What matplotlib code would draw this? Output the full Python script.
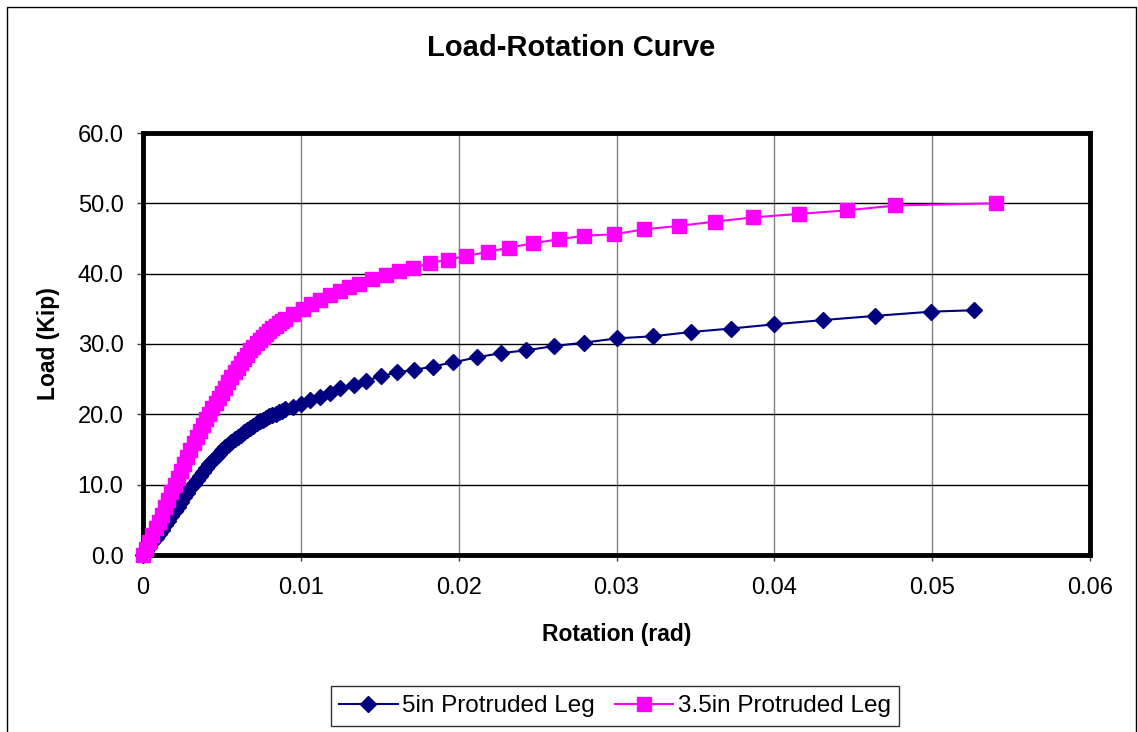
import matplotlib.pyplot as plt
import matplotlib.patches as patches

plt.rcParams['font.family'] = ['Liberation Sans', 'DejaVu Sans']

# 5in Protruded Leg
rot_5in = [0.0, 0.0002, 0.0004, 0.0006, 0.0008, 0.0010, 0.0012, 0.0014, 0.0016, 0.0018,
           0.0020, 0.0022, 0.0024, 0.0026, 0.0028, 0.0030, 0.0032, 0.0034, 0.0036, 0.0038,
           0.0040, 0.0042, 0.0044, 0.0046, 0.0048, 0.0050, 0.0052, 0.0054, 0.0056, 0.0058,
           0.0060, 0.0062, 0.0064, 0.0066, 0.0068, 0.0070, 0.0072, 0.0074, 0.0076, 0.0078,
           0.0080, 0.0082, 0.0084, 0.0086, 0.0088, 0.0090, 0.0095, 0.0100, 0.01056, 0.01123,
           0.01182, 0.01249, 0.01339, 0.01412, 0.0151, 0.01611, 0.01715, 0.01835, 0.01967, 0.02115,
           0.02267, 0.02428, 0.02602, 0.02797, 0.03003, 0.0323, 0.03471, 0.03725, 0.0400, 0.04307,
           0.04639, 0.04995, 0.05262]
load_5in = [0.0, 0.6, 1.2, 1.8, 2.4, 3.0, 3.6, 4.2, 4.9, 5.5,
            6.2, 6.8, 7.5, 8.2, 8.8, 9.5, 10.1, 10.7, 11.3, 11.8,
            12.4, 12.9, 13.4, 13.9, 14.4, 14.9, 15.3, 15.7, 16.1, 16.5,
            16.8, 17.1, 17.5, 17.8, 18.1, 18.4, 18.7, 19.0, 19.2, 19.5,
            19.7, 19.9, 20.1, 20.3, 20.5, 20.7, 21.1, 21.4, 22.0, 22.5,
            23.1, 23.7, 24.2, 24.8, 25.4, 26.0, 26.3, 26.8, 27.4, 28.1,
            28.7, 29.1, 29.7, 30.2, 30.8, 31.1, 31.7, 32.2, 32.8, 33.4,
            34.0, 34.6, 34.8]

# 3.5in Protruded Leg
rot_35in = [0.0, 0.0002, 0.0004, 0.0006, 0.0008, 0.0010, 0.0012, 0.0014, 0.0016, 0.0018,
            0.0020, 0.0022, 0.0024, 0.0026, 0.0028, 0.0030, 0.0032, 0.0034, 0.0036, 0.0038,
            0.0040, 0.0042, 0.0044, 0.0046, 0.0048, 0.0050, 0.0052, 0.0054, 0.0056, 0.0058,
            0.0060, 0.0062, 0.0064, 0.0066, 0.0068, 0.0070, 0.0072, 0.0074, 0.0076, 0.0078,
            0.0080, 0.0082, 0.0084, 0.0086, 0.0088, 0.0090, 0.0095, 0.01015, 0.01067, 0.01119,
            0.01182, 0.01245, 0.01308, 0.0137, 0.01454, 0.01538, 0.01621, 0.01711, 0.01816, 0.01933,
            0.02045, 0.02187, 0.02316, 0.02468, 0.02634, 0.02797, 0.02984, 0.03176, 0.03396, 0.03623,
            0.03864, 0.04155, 0.0446, 0.04767, 0.05404]
load_35in = [0.0, 0.9, 1.9, 2.8, 3.8, 4.7, 5.7, 6.8, 7.8, 8.9,
             9.9, 11.0, 12.0, 13.0, 14.0, 15.0, 15.9, 16.8, 17.6, 18.5,
             19.3, 20.1, 20.9, 21.6, 22.3, 23.0, 23.8, 24.6, 25.3, 26.0,
             26.6, 27.3, 27.9, 28.5, 29.1, 29.6, 30.1, 30.6, 31.0, 31.4,
             31.9, 32.3, 32.6, 33.0, 33.3, 33.6, 34.3, 35.0, 35.7, 36.3,
             36.9, 37.5, 38.1, 38.6, 39.2, 39.8, 40.4, 40.8, 41.5, 42.0,
             42.5, 43.1, 43.7, 44.3, 44.9, 45.4, 45.6, 46.3, 46.8, 47.4,
             48.0, 48.5, 49.0, 49.7, 50.0]

xticks = [0, 0.01, 0.02, 0.03, 0.04, 0.05, 0.06]
xtick_labels = ['0', '0.01', '0.02', '0.03', '0.04', '0.05', '0.06']
yticks = [0, 10, 20, 30, 40, 50, 60]

fig = plt.figure(figsize=(11.38, 7.32), dpi=100)
ax = fig.add_axes([143 / 1138, 1 - 555 / 732, (1090 - 143) / 1138, (555 - 133) / 732])

# рамка всей диаграммы
fig.patches.append(patches.Rectangle((7 / 1138, -0.02), (1136 - 7) / 1138, 1 - 7 / 732 + 0.02,
                                     transform=fig.transFigure, fill=False,
                                     edgecolor='black', linewidth=1))

ax.plot(rot_5in, load_5in, color='#000080', marker='D', markersize=8, linewidth=1.5,
        label='5in Protruded Leg', zorder=3, clip_on=False)
ax.plot(rot_35in, load_35in, color='#FF00FF', marker='s', markersize=9.5, linewidth=1.5,
        label='3.5in Protruded Leg', zorder=4, clip_on=False)

ax.set_xlim(0, 0.06)
ax.set_ylim(0, 60)
ax.set_xticks(xticks)
ax.set_xticklabels(xtick_labels)
ax.set_yticks(yticks)
ax.set_yticklabels([f'{v:.1f}' for v in yticks])
ax.tick_params(axis='both', direction='out', length=4, width=1, color='#404040',
               labelsize=17, pad=10)
ax.tick_params(axis='x', pad=12)

ax.yaxis.grid(True, color='black', linewidth=1)
ax.xaxis.grid(True, color='#808080', linewidth=1)
ax.set_axisbelow(True)

for s in ax.spines.values():
    s.set_linewidth(3.5)
    s.set_color('black')

ax.set_xlabel('Rotation (rad)', fontsize=16.5, fontweight='bold', va='center')
ax.xaxis.set_label_coords(0.5, (555 - 635) / 422)
ax.set_ylabel('Load (Kip)', fontsize=16.5, fontweight='bold', va='center')
ax.yaxis.set_label_coords((48 - 143) / 947, 0.5)

fig.text(571 / 1138, 1 - 48 / 732, 'Load-Rotation Curve', fontsize=21, fontweight='bold',
         ha='center', va='center')

leg = fig.legend(loc='center', bbox_to_anchor=(615 / 1138, 1 - 706 / 732), ncol=2,
                 fontsize=17.5, frameon=True, fancybox=False, edgecolor='black',
                 handlelength=2.4, handletextpad=0.2, columnspacing=0.8,
                 borderpad=0.35, borderaxespad=0)
leg.get_frame().set_linewidth(1)

fig.savefig('out.png', dpi=100)
